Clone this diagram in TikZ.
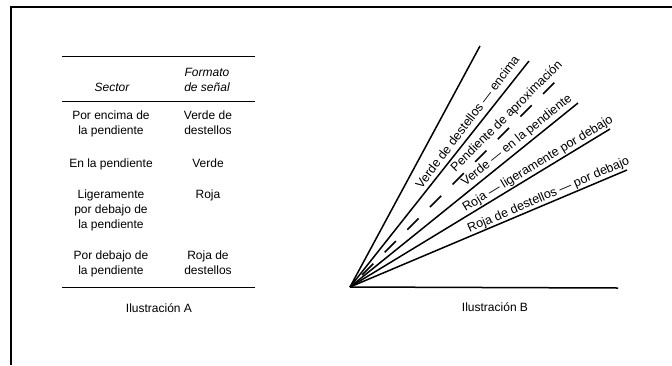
\documentclass[tikz,border=0pt]{standalone}
\usepackage{fontspec}
\setmainfont{Liberation Sans}
\begin{document}
\begin{tikzpicture}[x=1pt,y=-1pt,
  frame/.style={line width=1.8pt},
  rule/.style={line width=1pt},
  ray/.style={line width=1.5pt},
  cell/.style={inner sep=0pt, anchor=base, font=\fontsize{12}{15}\selectfont},
  lbl/.style={inner sep=0pt, anchor=base west, font=\fontsize{12.5}{15}\selectfont}]
\useasboundingbox (0,0) rectangle (672,365);
% frame
\coordinate (TL) at (11,7);
\coordinate (TR) at (672,7);
\coordinate (BL) at (11,365);
\draw[frame] (BL) -- (TL) -- (TR);
% table rules
\coordinate (r1a) at (62,56);  \coordinate (r1b) at (255,56);
\coordinate (r2a) at (62,101); \coordinate (r2b) at (255,101);
\coordinate (r3a) at (62,287); \coordinate (r3b) at (255,287);
\draw[rule] (r1a) -- (r1b);
\draw[rule] (r2a) -- (r2b);
\draw[rule] (r3a) -- (r3b);
% headers
\node[cell] (hsec) at (112,91) {\itshape Sector};
\node[cell] (hfmt) at (207,76) {\itshape\begin{tabular}[t]{@{}c@{}}Formato\\de señal\end{tabular}};
% rows
\node[cell] (s1) at (111,119) {\begin{tabular}[t]{@{}c@{}}Por encima de\\la pendiente\end{tabular}};
\node[cell] (f1) at (208,119) {\begin{tabular}[t]{@{}c@{}}Verde de\\destellos\end{tabular}};
\node[cell] (s2) at (111,167) {En la pendiente};
\node[cell] (f2) at (208,167) {Verde};
\node[cell] (s3) at (111,198) {\begin{tabular}[t]{@{}c@{}}Ligeramente\\por debajo de\\la pendiente\end{tabular}};
\node[cell] (f3) at (208,198) {Roja};
\node[cell] (s4) at (111,259) {\begin{tabular}[t]{@{}c@{}}Por debajo de\\la pendiente\end{tabular}};
\node[cell] (f4) at (208,259) {\begin{tabular}[t]{@{}c@{}}Roja de\\destellos\end{tabular}};
\node[cell] (capA) at (159,312) {Ilustración A};
% illustration B
\coordinate (O) at (350,287);
\coordinate (ea) at (480,46);
\coordinate (eb) at (529,61);
\coordinate (ec) at (562,75);
\coordinate (ed) at (578,103);
\coordinate (ee) at (610,129);
\coordinate (ef) at (627,170);
\coordinate (eg) at (618,288);
\draw[ray] (O) -- (ea);
\draw[ray] (O) -- (eb);
\draw[ray, dash pattern=on 16pt off 16pt, dash phase=15pt] (O) -- (ec);
\draw[ray] (O) -- (ed);
\draw[ray] (O) -- (ee);
\draw[ray] (O) -- (ef);
\draw[ray] (O) -- (eg);
\node[lbl, rotate=52.8] (l1) at (421.5,189.5) {Verde de destellos — encima};
\node[lbl, rotate=45] (l2) at (455.5,172.6) {Pendiente de aproximación};
\node[lbl, rotate=38.9] (l3) at (465.2,186.4) {Verde — en la pendiente};
\node[lbl, rotate=31.3] (l4) at (465.5,211.8) {Roja — ligeramente por debajo};
\node[lbl, rotate=23.2] (l5) at (469.5,232.6) {Roja de destellos — por debajo};
\node[cell] (capB) at (495,311) {Ilustración B};
\end{tikzpicture}
\end{document}
